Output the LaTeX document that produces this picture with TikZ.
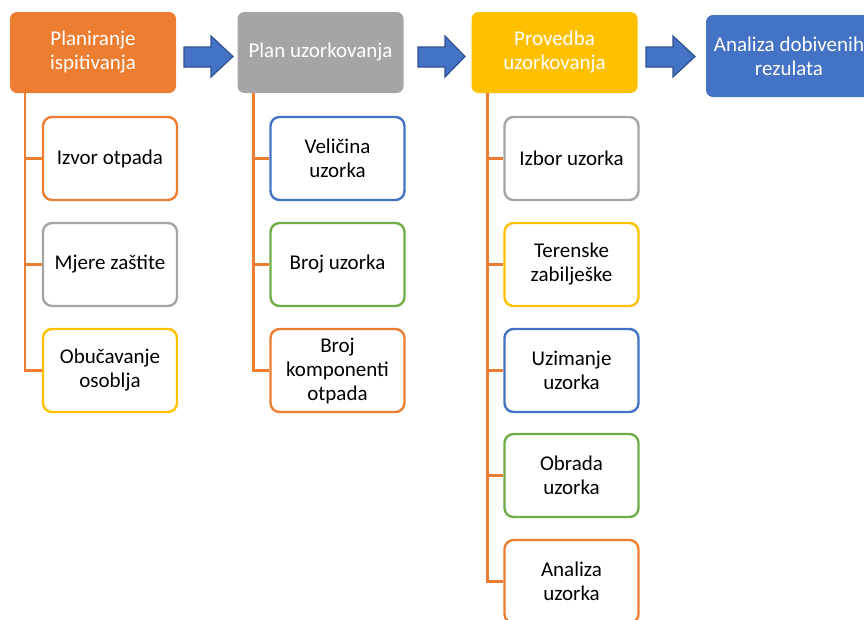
\documentclass[tikz,border=0pt]{standalone}
\usepackage{fontspec}
\setmainfont{Carlito}
\definecolor{corange}{HTML}{ED7D31}
\definecolor{cgray}{HTML}{A5A5A5}
\definecolor{cgold}{HTML}{FFC000}
\definecolor{cblue}{HTML}{4472C4}
\definecolor{cgreen}{HTML}{70AD47}
\definecolor{cdblue}{HTML}{2F528F}
\begin{document}
\begin{tikzpicture}[x=1pt,y=-1pt,
  head/.style={rectangle,rounded corners=7pt,minimum width=166pt,minimum height=81pt,
    text=white,align=center,font=\fontsize{21}{24}\selectfont,inner sep=2pt},
  child/.style={rectangle,rounded corners=9pt,minimum width=134pt,minimum height=83pt,
    line width=2.4pt,fill=white,align=center,font=\fontsize{21}{24}\selectfont,inner sep=2pt},
  conn/.style={draw=corange,line width=2.6pt},
  blockarrow/.style={fill=cblue,draw=cdblue,line width=1.2pt,line join=miter}
]
\useasboundingbox (0,0) rectangle (864,619);
% headers
\node[head,fill=corange] (h1) at (93,52.5) {Planiranje\\ispitivanja};
\node[head,fill=cgray] (h2) at (320.5,52.5) {Plan uzorkovanja};
\node[head,fill=cgold] (h3) at (554.5,52.5) {Provedba\\uzorkovanja};
\node[head,fill=cblue,minimum height=82pt] (h4) at (789,56) {Analiza dobivenih\\rezulata};
% block arrows
\foreach \xa/\xb/\xc in {184/211/233, 418/445/465, 646/673/695}{
  \draw[blockarrow] (\xa,47) -- (\xb,47) -- (\xb,36) -- (\xc,56.5) -- (\xb,77) -- (\xb,67) -- (\xa,67) -- cycle;
}
% column 1
\node[child,draw=corange] (c11) at (110,158.5) {Izvor otpada};
\node[child,draw=cgray] (c12) at (110,264.5) {Mjere zaštite};
\node[child,draw=cgold] (c13) at (110,370.5) {Obučavanje\\osoblja};
% column 2
\node[child,draw=cblue] (c21) at (337.5,158.5) {Veličina\\uzorka};
\node[child,draw=cgreen] (c22) at (337.5,264.5) {Broj uzorka};
\node[child,draw=corange] (c23) at (337.5,370.5) {Broj\\komponenti\\otpada};
% column 3
\node[child,draw=cgray] (c31) at (571.5,158.5) {Izbor uzorka};
\node[child,draw=cgold] (c32) at (571.5,264.5) {Terenske\\zabilješke};
\node[child,draw=cblue] (c33) at (571.5,370.5) {Uzimanje\\uzorka};
\node[child,draw=cgreen] (c34) at (571.5,475.5) {Obrada\\uzorka};
\node[child,draw=corange] (c35) at (571.5,581.5) {Analiza\\uzorka};
% connectors
\foreach \c in {c11,c12,c13}{
  \draw[conn] ([xshift=15pt]h1.south west) |- (\c.west);
}
\foreach \c in {c21,c22,c23}{
  \draw[conn] ([xshift=16pt]h2.south west) |- (\c.west);
}
\foreach \c in {c31,c32,c33,c34,c35}{
  \draw[conn] ([xshift=16pt]h3.south west) |- (\c.west);
}
\end{tikzpicture}
\end{document}
